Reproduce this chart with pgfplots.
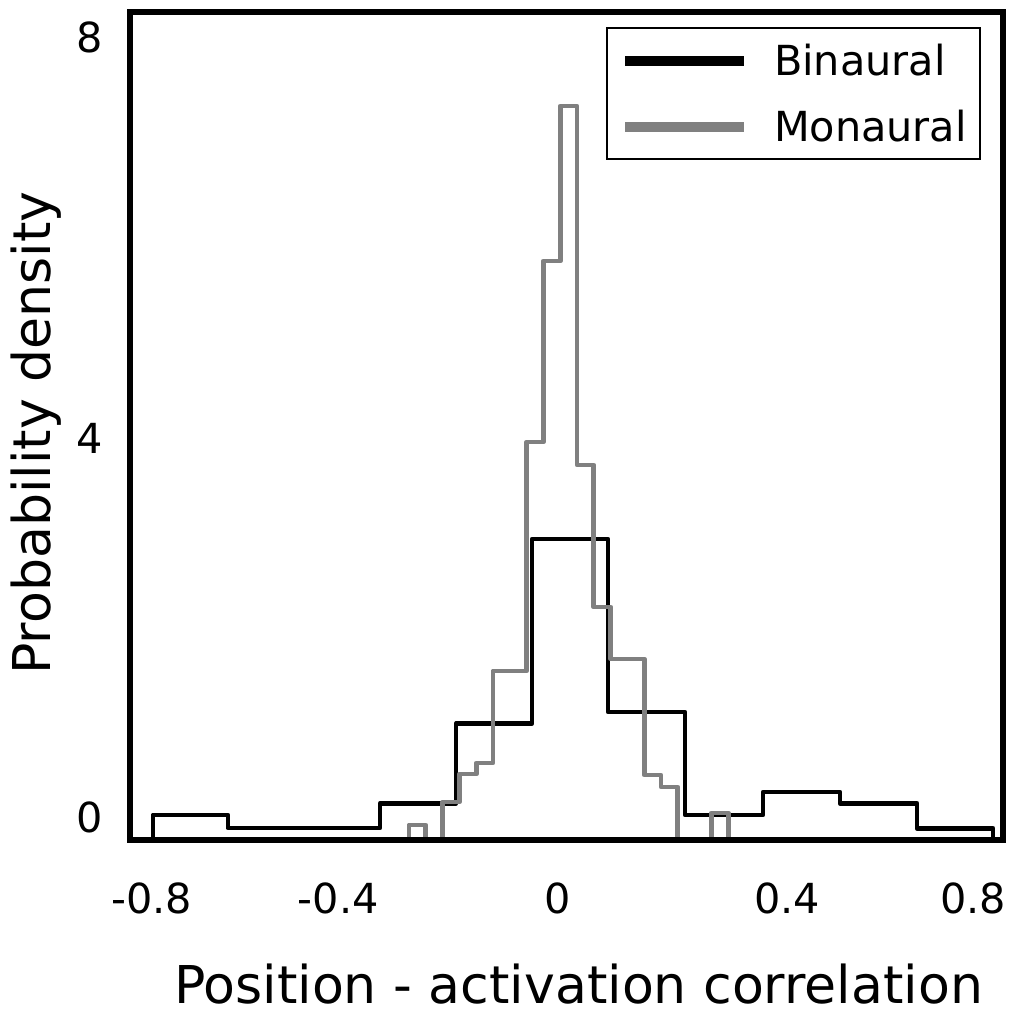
\documentclass[border=0pt]{standalone}
\usepackage{fontspec}
\setmainfont{DejaVu Sans}
\usepackage{pgfplots}
\pgfplotsset{compat=1.18}
\definecolor{mgray}{RGB}{128,128,128}
\begin{document}
\begin{tikzpicture}
\path[use as bounding box] (-65bp,-87bp) rectangle (439.5bp,420bp);
\begin{axis}[
  at={(0,0)}, anchor=south west,
  scale only axis, width=436.5bp, height=414bp,
  xmin=-0.8458, xmax=0.8794,
  ymin=-0.01, ymax=8.27,
  axis on top,
  axis line style={line width=3.2bp},
  major tick length=0pt,
  xtick={-0.803,-0.434,0,0.4526,0.820},
  xticklabels={-0.8,-0.4,0,0.4,0.8},
  ytick={0.215,4.01,8.02},
  yticklabels={0,4,8},
  tick label style={font=\fontsize{20.7bp}{24bp}\selectfont, inner sep=0pt},
  xticklabel style={anchor=base, yshift=-36.5bp},
  yticklabel style={anchor=base east, xshift=-13.5bp, yshift=-7.55bp},
  xlabel={Position - activation correlation},
  ylabel={Probability density},
  label style={font=\fontsize{26.05bp}{30bp}\selectfont, inner sep=0pt},
  xlabel style={at={(axis description cs:0.5137,-0.1969)}, anchor=base},
  ylabel style={at={(axis description cs:-0.0905,0.4915)}, anchor=base},
  legend style={at={(axis description cs:0.9748,0.9819)}, anchor=north east,
    draw=black, line width=1.2bp, inner xsep=6.5bp, inner ysep=8bp,
    column sep=12.5bp, row sep=16.5bp,
    font=\fontsize{20.7bp}{24bp}\selectfont,
    nodes={inner sep=0pt, text height=15.5bp, text depth=1bp}},
  legend cell align=left,
  legend image code/.code={\draw[#1, line width=5bp] (0bp,0bp) -- (59.5bp,0bp);},
]
\addplot[black, line width=2.4bp, line join=round, const plot] coordinates {
(-0.8004,0) (-0.8004,0.24) (-0.6522,0.11) (-0.5020,0.11) (-0.3518,0.355)
(-0.2016,1.155) (-0.0514,3.0) (0.0988,1.27) (0.2510,0.24) (0.4051,0.47)
(0.5573,0.355) (0.7095,0.105) (0.8597,0)};
\addlegendentry{Binaural}
\addplot[mgray, line width=2.4bp, line join=round, const plot] coordinates {
(-0.2945,0) (-0.2945,0.14) (-0.2613,0) (-0.2281,0.37) (-0.1949,0.65)
(-0.1617,0.76) (-0.1285,1.68) (-0.0953,1.68) (-0.0621,3.97) (-0.0289,5.78)
(0.0043,7.33) (0.0375,3.74) (0.0708,2.32) (0.1040,1.80) (0.1372,1.80)
(0.1704,0.64) (0.2036,0.52) (0.2368,0) (0.2700,0) (0.3032,0.26) (0.3364,0)};
\addlegendentry{Monaural}
\end{axis}
\end{tikzpicture}
\end{document}
